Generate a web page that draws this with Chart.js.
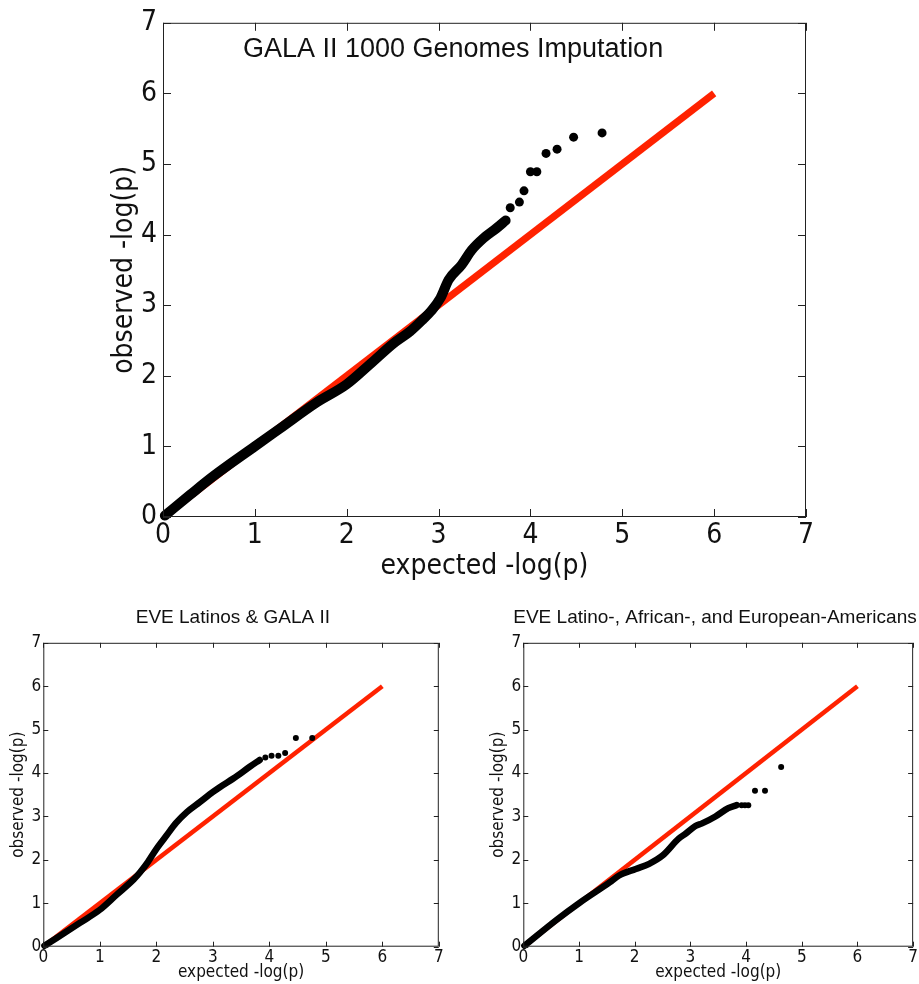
<!DOCTYPE html>
<html>
<head>
<meta charset="utf-8">
<title>QQ plots</title>
<script src="https://cdn.jsdelivr.net/npm/chart.js@4.4.1/dist/chart.umd.min.js"></script>
<style>
  html, body { margin: 0; padding: 0; background: #fff; }
  body { width: 919px; height: 984px; position: relative; overflow: hidden; }
  canvas { position: absolute; }
</style>
</head>
<body>
<canvas id="qq-gala" width="919" height="590" style="left:0;top:0;width:919px;height:590px"></canvas>
<canvas id="qq-eve" width="466" height="384" style="left:0;top:600px;width:466px;height:384px"></canvas>
<canvas id="qq-eve-all" width="439" height="384" style="left:480px;top:600px;width:439px;height:384px"></canvas>
<script>
// Shared axis ticks and the y = x reference line
const axisTicks = [0, 1, 2, 3, 4, 5, 6, 7];
const refX = [0, 6];
const refY = [0, 6];

// GALA II 1000 Genomes Imputation (dense part + sparse tail)
const galaBulkX = [0.02, 0.3, 0.55, 1.0, 1.27, 1.67, 2.0, 2.25, 2.51, 2.69, 2.83, 2.92, 3.02, 3.11, 3.25, 3.36, 3.49, 3.63, 3.73];
const galaBulkY = [0.02, 0.32, 0.58, 1.0, 1.25, 1.62, 1.88, 2.16, 2.46, 2.63, 2.80, 2.92, 3.10, 3.36, 3.57, 3.78, 3.95, 4.09, 4.20];
const galaTailX = [3.78, 3.88, 3.93, 4.00, 4.07, 4.17, 4.29, 4.47, 4.78];
const galaTailY = [4.38, 4.46, 4.62, 4.89, 4.89, 5.15, 5.21, 5.38, 5.44];

// EVE Latinos & GALA II
const eveBulkX = [0.02, 0.65, 1.0, 1.3, 1.6, 1.71, 1.85, 2.0, 2.18, 2.35, 2.54, 2.77, 3.01, 3.13, 3.37, 3.66, 3.83];
const eveBulkY = [0.02, 0.55, 0.85, 1.2, 1.55, 1.71, 1.95, 2.25, 2.56, 2.85, 3.10, 3.33, 3.57, 3.68, 3.88, 4.15, 4.30];
const eveTailX = [3.93, 4.04, 4.16, 4.28, 4.47, 4.76];
const eveTailY = [4.36, 4.40, 4.40, 4.46, 4.81, 4.81];

// EVE Latino-, African-, and European-Americans
const eveAllBulkX = [0.02, 0.6, 1.01, 1.55, 1.72, 2.02, 2.26, 2.5, 2.79, 2.91, 3.09, 3.21, 3.45, 3.68, 3.83];
const eveAllBulkY = [0.02, 0.62, 1.01, 1.48, 1.64, 1.79, 1.91, 2.10, 2.49, 2.60, 2.78, 2.84, 3.00, 3.19, 3.26];
const eveAllTailX = [3.92, 3.98, 4.04, 4.16, 4.34, 4.63];
const eveAllTailY = [3.26, 3.26, 3.26, 3.59, 3.59, 4.14];

const tickFont = "'DejaVu Sans Condensed', 'DejaVu Sans', sans-serif";
const titleFont = "'Liberation Sans', Arial, Helvetica, sans-serif";
const red = '#ff2200';

function toPoints(xs, ys) {
    return xs.map((x, i) => ({ x: x, y: ys[i] }));
}

// matplotlib style box with ticks pointing inwards on all four sides
const frameTicks = {
    id: 'frameTicks',
    afterDraw(chart, args, opts) {
        const { ctx, chartArea: a, scales } = chart;
        const len = opts.len || 6;
        ctx.save();
        ctx.strokeStyle = '#222';
        ctx.lineWidth = 1;
        ctx.strokeRect(a.left + 0.5, a.top + 0.5, a.right - a.left - 1, a.bottom - a.top - 1);
        ctx.beginPath();
        axisTicks.forEach(v => {
            const px = Math.round(scales.x.getPixelForValue(v)) + 0.5;
            const py = Math.round(scales.y.getPixelForValue(v)) + 0.5;
            ctx.moveTo(px, a.bottom); ctx.lineTo(px, a.bottom - len);
            ctx.moveTo(px, a.top); ctx.lineTo(px, a.top + len);
            ctx.moveTo(a.left, py); ctx.lineTo(a.left + len, py);
            ctx.moveTo(a.right, py); ctx.lineTo(a.right - len, py);
        });
        ctx.stroke();
        ctx.restore();
    }
};

// title written inside the plot area (main panel)
const innerTitle = {
    id: 'innerTitle',
    afterDraw(chart, args, opts) {
        if (!opts.text) return;
        const { ctx, scales } = chart;
        ctx.save();
        ctx.font = opts.size + 'px ' + titleFont;
        ctx.fillStyle = '#111';
        ctx.textAlign = 'left';
        ctx.textBaseline = 'middle';
        ctx.fillText(opts.text, scales.x.getPixelForValue(opts.at[0]), scales.y.getPixelForValue(opts.at[1]));
        ctx.restore();
    }
};

function makeQQ(id, bulkX, bulkY, tailX, tailY, s) {
    const ctx = document.getElementById(id).getContext('2d');
    return new Chart(ctx, {
        type: 'scatter',
        data: {
            datasets: [{
                data: toPoints(bulkX, bulkY),
                showLine: true,
                borderColor: '#000',
                borderWidth: s.band,
                borderCapStyle: 'round',
                borderJoinStyle: 'round',
                cubicInterpolationMode: 'monotone',
                pointRadius: 0,
                clip: 12,
                order: 1
            }, {
                data: toPoints(tailX, tailY),
                backgroundColor: '#000',
                borderWidth: 0,
                pointRadius: s.dot,
                clip: 12,
                order: 1
            }, {
                data: toPoints(refX, refY),
                showLine: true,
                borderColor: red,
                borderWidth: s.refWidth,
                pointRadius: 0,
                order: 2
            }]
        },
        options: {
            responsive: false,
            animation: false,
            events: [],
            layout: { padding: s.padding },
            plugins: {
                legend: { display: false },
                tooltip: { enabled: false },
                title: s.title ? {
                    display: true,
                    text: s.title,
                    align: s.titleAlign,
                    color: '#111',
                    font: { family: titleFont, size: s.titleSize, weight: 'normal' },
                    padding: { top: 6, bottom: 14 }
                } : { display: false },
                frameTicks: { len: s.tickLen },
                innerTitle: s.inner || {}
            },
            scales: {
                x: {
                    type: 'linear', min: 0, max: 7,
                    afterBuildTicks: sc => { sc.ticks = axisTicks.map(v => ({ value: v })); },
                    afterFit: sc => { sc.height = s.xHeight; },
                    grid: { display: false, drawTicks: false },
                    border: { display: false },
                    ticks: { color: '#111', padding: s.xPad, maxRotation: 0, autoSkip: false,
                             font: { family: tickFont, size: s.font } },
                    title: { display: true, text: 'expected -log(p)', color: '#111',
                             font: { family: tickFont, size: s.font },
                             padding: { top: 0, bottom: s.xTitlePad } }
                },
                y: {
                    type: 'linear', min: 0, max: 7,
                    afterBuildTicks: sc => { sc.ticks = axisTicks.map(v => ({ value: v })); },
                    afterFit: sc => { sc.width = s.yWidth; },
                    grid: { display: false, drawTicks: false },
                    border: { display: false },
                    ticks: { color: '#111', padding: s.yPad, autoSkip: false,
                             font: { family: tickFont, size: s.font } },
                    title: { display: true, text: 'observed -log(p)', color: '#111',
                             font: { family: tickFont, size: s.font },
                             padding: { top: s.yTitlePad, bottom: 0 } }
                }
            }
        },
        plugins: [frameTicks, innerTitle]
    });
}

function init() {
    makeQQ('qq-gala', galaBulkX, galaBulkY, galaTailX, galaTailY, {
        band: 10, dot: 4.5, refWidth: 7, tickLen: 8, font: 28,
        padding: { top: 20, left: 104, right: 113, bottom: 0 },
        xHeight: 73, yWidth: 59, xPad: 2, yPad: 6, xTitlePad: 6, yTitlePad: 4,
        inner: { text: 'GALA II 1000 Genomes Imputation', size: 27, at: [0.87, 6.62] }
    });
    makeQQ('qq-eve', eveBulkX, eveBulkY, eveTailX, eveTailY, {
        band: 6.5, dot: 3, refWidth: 4.5, tickLen: 5, font: 17,
        padding: { top: 0, left: 27, right: 27.2, bottom: 0 },
        xHeight: 37.3, yWidth: 16.3, xPad: 1, yPad: 2, xTitlePad: 1.5, yTitlePad: -18.2,
        title: 'EVE Latinos & GALA II', titleAlign: 'center', titleSize: 19
    });
    makeQQ('qq-eve-all', eveAllBulkX, eveAllBulkY, eveAllTailX, eveAllTailY, {
        band: 6.5, dot: 3, refWidth: 4.5, tickLen: 5, font: 17,
        padding: { top: 0, left: 0, right: 2.3, bottom: 0 },
        xHeight: 37.3, yWidth: 43.3, xPad: 1, yPad: 2, xTitlePad: 1.5, yTitlePad: 8.8,
        title: 'EVE Latino-, African-, and European-Americans', titleAlign: 'end', titleSize: 19
    });
}

window.onload = init;
</script>
</body>
</html>
